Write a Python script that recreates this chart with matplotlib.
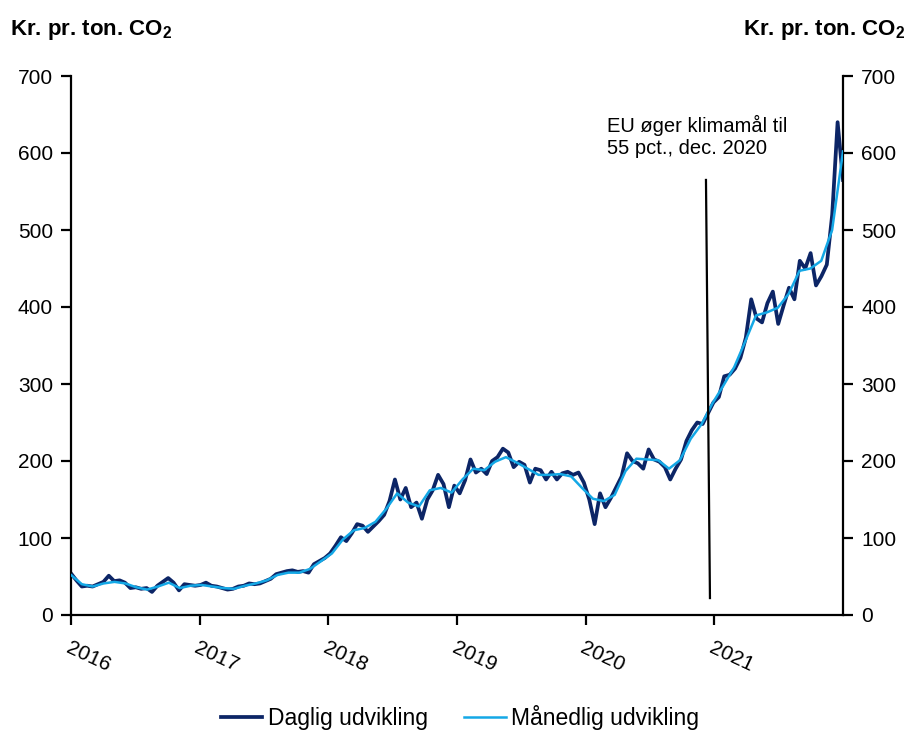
import numpy as np
import matplotlib
matplotlib.use("Agg")
import matplotlib.pyplot as plt

plt.rcParams["font.family"] = ["Liberation Sans", "DejaVu Sans"]
plt.rcParams["mathtext.fontset"] = "custom"
plt.rcParams["mathtext.bf"] = "Liberation Sans:bold"
plt.rcParams["mathtext.rm"] = "Liberation Sans"

# Månedlig udvikling, jan 2016 - dec 2021 (kr. pr. ton CO2)
maaned_2016 = [52, 40, 37, 41, 43, 41, 36, 33, 37, 42, 35, 38]
maaned_2017 = [39, 37, 35, 34, 38, 41, 45, 52, 55, 55, 60, 70]
maaned_2018 = [80, 98, 110, 113, 121, 138, 158, 146, 141, 162, 165, 159]
maaned_2019 = [176, 190, 188, 199, 205, 198, 190, 182, 182, 183, 180, 165]
maaned_2020 = [151, 148, 156, 187, 203, 202, 201, 190, 201, 229, 248, 275]
maaned_2021 = [298, 322, 355, 389, 393, 399, 417, 447, 450, 460, 500, 602]
maanedlig = maaned_2016 + maaned_2017 + maaned_2018 + maaned_2019 + maaned_2020 + maaned_2021

# Daglig udvikling, aflæst ca. to gange pr. måned
dag_2016 = [54, 45, 37, 38, 37, 40, 43, 51, 44, 45, 42, 35,
            36, 34, 35, 30, 38, 43, 48, 42, 32, 40, 39, 38]
dag_2017 = [39, 42, 38, 37, 35, 33, 34, 37, 38, 41, 40, 41,
            44, 47, 53, 55, 57, 58, 56, 57, 55, 66, 70, 74]
dag_2018 = [80, 90, 101, 96, 106, 118, 116, 108, 115, 122, 130, 148,
            176, 150, 165, 140, 146, 125, 150, 162, 182, 170, 140, 168]
dag_2019 = [158, 175, 202, 185, 190, 183, 200, 205, 216, 211, 192, 199,
            195, 172, 190, 188, 176, 186, 176, 184, 186, 182, 185, 172]
dag_2020 = [150, 118, 158, 140, 152, 166, 180, 210, 200, 197, 190, 215,
            202, 199, 192, 176, 190, 202, 226, 240, 250, 248, 262, 276]
dag_2021 = [283, 310, 312, 320, 334, 360, 410, 385, 380, 405, 420, 378,
            402, 425, 410, 460, 450, 470, 428, 440, 455, 520, 640, 565]
daglig = dag_2016 + dag_2017 + dag_2018 + dag_2019 + dag_2020 + dag_2021

aar = [2016, 2017, 2018, 2019, 2020, 2021]

x_maaned = np.linspace(2016, 2022, len(maanedlig))
x_dag = np.linspace(2016, 2022, len(daglig))

fig = plt.figure(figsize=(9.2, 7.49), dpi=100)
ax = fig.add_axes([71 / 920, 134 / 749, 772 / 920, 539 / 749])

ax.plot(x_dag, daglig, color="#0c2566", lw=2.7, label="Daglig udvikling", zorder=2)
ax.plot(x_maaned, maanedlig, color="#14a8e6", lw=1.8, label="Månedlig udvikling", zorder=3)

# annotering
ax.plot([2020.935, 2020.966], [565, 22], color="black", lw=1.6, zorder=4)
ax.text(2020.166, 650, "EU øger klimamål til\n55 pct., dec. 2020", fontsize=14.5,
        ha="left", va="top", linespacing=1.2)

ax.set_xlim(2016, 2022)
ax.set_ylim(0, 700)
ax.set_yticks(range(0, 701, 100))
ax.set_xticks(aar)
ax.set_xticklabels([str(a) for a in aar], rotation=-25, ha="left",
                   rotation_mode="anchor", fontsize=15)

for s in ["left", "right", "bottom"]:
    ax.spines[s].set_linewidth(1.6)
ax.spines["top"].set_visible(False)
ax.tick_params(axis="y", left=True, right=True, labelright=True, direction="out",
               length=7, width=1.6, labelsize=15, pad=6)
ax.tick_params(axis="x", direction="out", length=7, width=1.6, pad=10)

fig.text(10 / 920, 1 - 30 / 749, r"Kr. pr. ton. CO$_\mathbf{2}$", fontsize=16,
         fontweight="bold", ha="left", va="center")
fig.text(905 / 920, 1 - 30 / 749, r"Kr. pr. ton. CO$_\mathbf{2}$", fontsize=16,
         fontweight="bold", ha="right", va="center")

fig.legend(loc="center", bbox_to_anchor=(0.5, 1 - 718 / 749), ncol=2, frameon=False,
           fontsize=16.5, handlelength=1.8, columnspacing=1.6, handletextpad=0.25)

fig.savefig("out.png", dpi=100)
